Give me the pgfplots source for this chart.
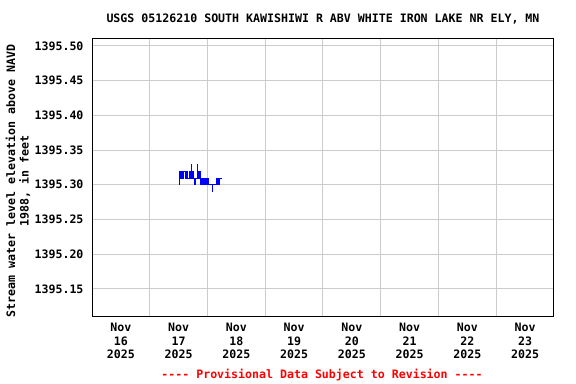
\documentclass[border=0pt]{standalone}
\usepackage{fontspec}
\setmonofont{DejaVu Sans Mono}
\usepackage{pgfplots}
\pgfplotsset{compat=1.18}
\newcommand\ff{\fontsize{11.6bp}{13.5bp}\selectfont\ttfamily\bfseries}
\begin{document}
\begin{tikzpicture}
\path[use as bounding box] (0,0) rectangle (576bp,384bp);
\begin{axis}[at={(92bp,68bp)}, anchor=south west, scale only axis,
  width=462bp, height=277bp,
  xmin=0, xmax=8, ymin=1395.111, ymax=1395.510,
  xtick={0.5,1.5,2.5,3.5,4.5,5.5,6.5,7.5},
  xticklabels={{Nov\\16\\2025},{Nov\\17\\2025},{Nov\\18\\2025},{Nov\\19\\2025},{Nov\\20\\2025},{Nov\\21\\2025},{Nov\\22\\2025},{Nov\\23\\2025}},
  xticklabel style={align=center, font=\ff, yshift=-4bp},
  minor xtick={1,2,3,4,5,6,7}, xminorgrids,
  ytick={1395.15,1395.20,1395.25,1395.30,1395.35,1395.40,1395.45,1395.50},
  ymajorgrids,
  grid style={draw=black!20, line width=1bp},
  minor grid style={draw=black!20, line width=1bp},
  major tick length=0pt, minor tick length=0pt,
  axis line style={line width=1bp, black},
  yticklabel style={font=\ff, xshift=-5bp},
  /pgf/number format/.cd, fixed, fixed zerofill, precision=2, 1000 sep={}, assume math mode=true
]
\addplot[const plot, blue, line width=0.6bp] coordinates {
(1.506,1395.30) (1.510,1395.32) (1.524,1395.31) (1.540,1395.32) (1.558,1395.31)
(1.575,1395.32) (1.593,1395.32) (1.610,1395.31) (1.628,1395.32) (1.645,1395.31)
(1.662,1395.31) (1.680,1395.32) (1.697,1395.31) (1.714,1395.33) (1.722,1395.31)
(1.740,1395.32) (1.755,1395.31) (1.772,1395.30) (1.789,1395.31) (1.801,1395.31)
(1.818,1395.33) (1.826,1395.32) (1.845,1395.31) (1.858,1395.32) (1.870,1395.30)
(1.885,1395.31) (1.899,1395.30) (1.914,1395.31) (1.928,1395.30) (1.943,1395.31)
(1.957,1395.30) (1.971,1395.31) (1.985,1395.30) (2.000,1395.31) (2.014,1395.30)
(2.029,1395.30) (2.043,1395.30) (2.078,1395.29) (2.089,1395.30) (2.101,1395.30)
(2.130,1395.30) (2.145,1395.31) (2.159,1395.30) (2.173,1395.31) (2.187,1395.30)
(2.202,1395.31) (2.216,1395.31) (2.251,1395.31)
};
\end{axis}
\node[font=\ff] at (323bp,365bp) {USGS 05126210 SOUTH KAWISHIWI R ABV WHITE IRON LAKE NR ELY, MN};
\node[font=\ff, rotate=90, align=center] at (18bp,203bp) {Stream water level elevation above NAVD\\1988, in feet};
\node[font=\ff, text=red] at (322bp,9bp) {---- Provisional Data Subject to Revision ----};
\end{tikzpicture}
\end{document}
